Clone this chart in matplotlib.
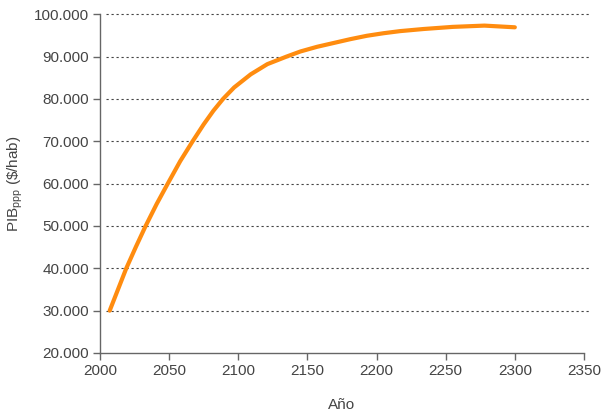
import matplotlib
matplotlib.use("Agg")
import matplotlib.pyplot as plt
from matplotlib.ticker import FuncFormatter

years = [2007, 2013, 2019, 2026, 2033, 2041, 2049, 2058, 2067, 2075, 2082, 2089, 2097,
         2109, 2121, 2135, 2145, 2157, 2169, 2181, 2193, 2205, 2217, 2234, 2255, 2278, 2300]
pib = [30000, 35000, 40000, 45100, 50000, 55200, 60000, 65300, 70000, 74000, 77200, 80000, 82700,
       85800, 88200, 90000, 91200, 92300, 93200, 94100, 94900, 95500, 96000, 96500, 97000, 97300, 96900]
xticks = [2000, 2050, 2100, 2150, 2200, 2250, 2300, 2350]
yticks = [20000, 30000, 40000, 50000, 60000, 70000, 80000, 90000, 100000]

plt.rcParams['font.family'] = ['Liberation Sans', 'DejaVu Sans']
plt.rcParams['mathtext.fontset'] = 'custom'
plt.rcParams['mathtext.rm'] = 'Liberation Sans'
plt.rcParams['mathtext.it'] = 'Liberation Sans'

txt = '#444444'
fig = plt.figure(figsize=(6.08, 4.17), dpi=100)
ax = fig.add_axes([0.1645, 0.1535, 0.796, 0.8125])

for y in yticks[1:]:
    ax.plot([0.012, 1.01], [y, y], transform=ax.get_yaxis_transform(), color='#444444',
            linestyle=(0, (2, 2.5)), linewidth=0.8, clip_on=False, zorder=1)

ax.plot(years, pib, color='#FF8C0F', linewidth=3, solid_capstyle='round',
        solid_joinstyle='round', zorder=3)

ax.set_xlim(2000, 2350)
ax.set_ylim(20000, 100000)
ax.set_xticks(xticks)
ax.set_yticks(yticks)
ax.yaxis.set_major_formatter(FuncFormatter(lambda v, p: f"{int(v):,}".replace(',', '.')))

for s in ['top', 'right']:
    ax.spines[s].set_visible(False)
for s in ['left', 'bottom']:
    ax.spines[s].set_color('#666666')
    ax.spines[s].set_linewidth(1.0)
ax.tick_params(direction='out', length=5, width=1.0, color='#666666', labelsize=11,
               labelcolor=txt, pad=3)

ax.set_xlabel('Año', fontsize=11, color=txt, labelpad=14)
ax.set_ylabel(r'PIB$_{\mathrm{ppp}}$ (\$/hab)', fontsize=11, color=txt, labelpad=6)

fig.savefig('out.png', dpi=100)
